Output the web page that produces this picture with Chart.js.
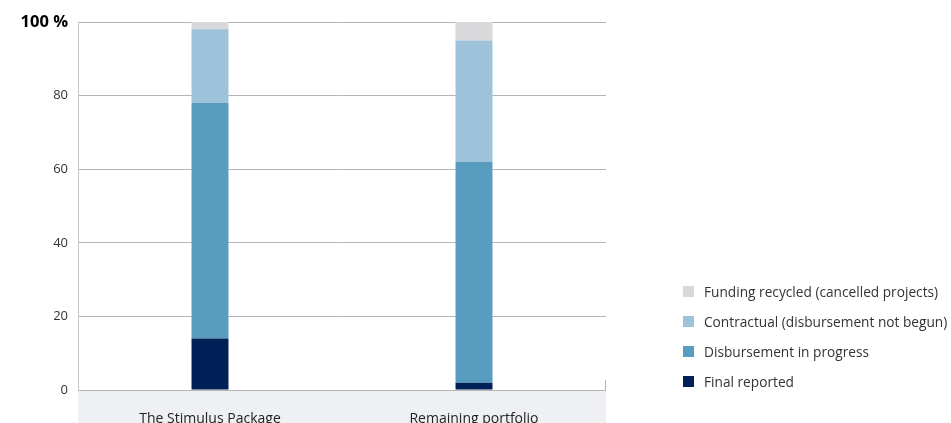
<!DOCTYPE html>
<html>
<head>
<meta charset="utf-8">
<script src="https://cdn.jsdelivr.net/npm/chart.js@4/dist/chart.umd.min.js"></script>
<style>
  html, body { margin: 0; padding: 0; background: #fff; }
  #wrap { position: relative; width: 951px; height: 423px; }
  #legend { position: absolute; left: 683px; top: 276px; font-family: "Open Sans", sans-serif; font-size: 13.7px; color: #333; }
  #legend .row { display: flex; align-items: center; height: 30px; }
  #legend .box { width: 11px; height: 11px; margin-right: 10px; }
</style>
</head>
<body>
<div id="wrap">
  <canvas id="chart" width="951" height="423"></canvas>
  <div id="legend"></div>
</div>
<script>
  // Categories and series (percent of total)
  const categories = ["The Stimulus Package", "Remaining portfolio"]
  const finalReported = [14, 2]
  const disbursementInProgress = [64, 60]
  const contractual = [20, 33]
  const fundingRecycled = [2, 5]
  const yTicks = [0, 20, 40, 60, 80, 100]

  const series = [
    { label: "Final reported", data: finalReported, color: "#002157" },
    { label: "Disbursement in progress", data: disbursementInProgress, color: "#589dc0" },
    { label: "Contractual (disbursement not begun)", data: contractual, color: "#9dc2d9" },
    { label: "Funding recycled (cancelled projects)", data: fundingRecycled, color: "#d9d9db" },
  ]

  // Grey band under the plot for the category labels
  const bottomBand = {
    id: "bottomBand",
    beforeDraw(chart) {
      const { ctx, chartArea } = chart
      ctx.save()
      ctx.fillStyle = "#eef0f4"
      ctx.fillRect(chartArea.left, chartArea.bottom, chartArea.right - chartArea.left, chart.height - chartArea.bottom)
      // small end tick on the right
      ctx.strokeStyle = "#b5b5b5"
      ctx.lineWidth = 1
      ctx.beginPath()
      ctx.moveTo(chartArea.right - 0.5, chartArea.bottom - 10)
      ctx.lineTo(chartArea.right - 0.5, chartArea.bottom)
      ctx.stroke()
      ctx.restore()
    },
  }

  new Chart(document.getElementById("chart"), {
    type: "bar",
    data: {
      labels: categories,
      datasets: series.map((s) => ({
        label: s.label,
        data: s.data,
        backgroundColor: s.color,
        borderWidth: 0,
        barPercentage: 0.14,
        categoryPercentage: 1,
      })),
    },
    options: {
      responsive: false,
      animation: false,
      layout: { padding: { top: 22, right: 345, left: 0, bottom: 0 } },
      scales: {
        x: {
          stacked: true,
          grid: { display: false },
          border: { display: false },
          afterFit: (scale) => {
            scale.height = 33
          },
          ticks: {
            padding: 13,
            color: "#222",
            font: { family: "Open Sans", size: 14 },
          },
        },
        y: {
          stacked: true,
          min: 0,
          max: 100,
          afterBuildTicks: (scale) => {
            scale.ticks = yTicks.map((v) => ({ value: v }))
          },
          afterFit: (scale) => {
            scale.width = 78
          },
          grid: { color: "#b5b5b5", drawTicks: false },
          border: { display: true, color: "#c8c8c8" },
          ticks: {
            padding: 10,
            callback: (v) => (v === 100 ? "100 %" : v),
            color: (c) => (c.tick.value === 100 ? "#000" : "#333"),
            font: (c) =>
              c.tick && c.tick.value === 100
                ? { family: "Open Sans", size: 16.5, weight: "bold" }
                : { family: "Open Sans", size: 13 },
          },
        },
      },
      plugins: {
        legend: { display: false },
        tooltip: { enabled: false },
      },
    },
    plugins: [bottomBand],
  })

  // Legend, top to bottom in reverse stacking order
  const legend = document.getElementById("legend")
  series.slice().reverse().forEach((s) => {
    const row = document.createElement("div")
    row.className = "row"
    const box = document.createElement("div")
    box.className = "box"
    box.style.background = s.color
    const text = document.createElement("span")
    text.textContent = s.label
    row.appendChild(box)
    row.appendChild(text)
    legend.appendChild(row)
  })
</script>
</body>
</html>
